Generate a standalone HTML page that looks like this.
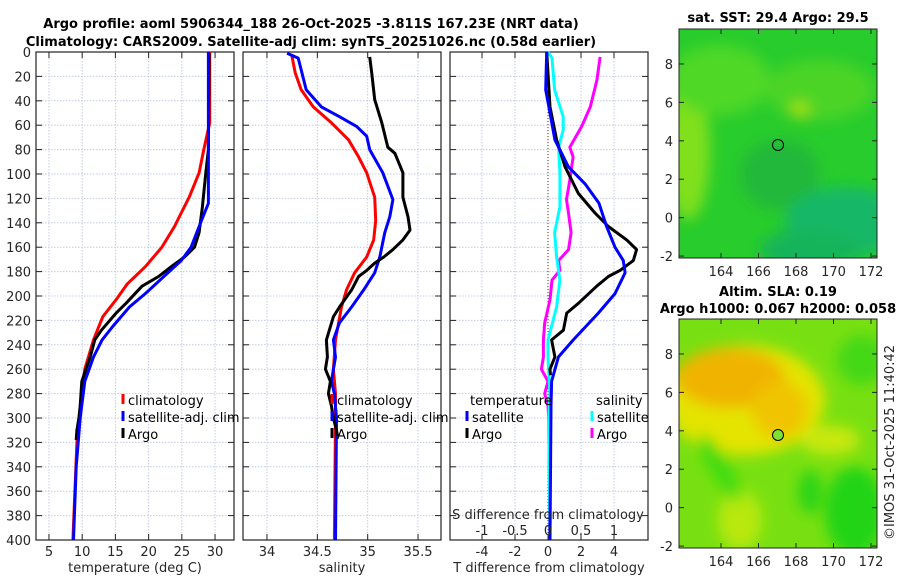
<!DOCTYPE html>
<html><head><meta charset="utf-8"><style>
html,body{margin:0;padding:0;background:#fff;}
svg{display:block;font-family:"DejaVu Sans","Liberation Sans",sans-serif;}
.tk{font-size:13px;fill:#262626;}
.tt{font-size:13px;font-weight:bold;fill:#000;}
.lg{font-size:13px;fill:#000;}
</style></head><body>
<svg id="fig" width="900" height="580" viewBox="0 0 900 580">
<defs>
<filter id="blur6" x="-20%" y="-20%" width="140%" height="140%"><feGaussianBlur stdDeviation="7"/></filter>
<clipPath id="m1clip"><rect x="679" y="29" width="198" height="229"/></clipPath>
<clipPath id="m2clip"><rect x="679" y="319" width="198" height="229"/></clipPath>
</defs>
<text class="tt" x="311" y="28" text-anchor="middle">Argo profile: aoml 5906344_188 26-Oct-2025 -3.811S 167.23E (NRT data)</text>
<text class="tt" x="311" y="46" text-anchor="middle">Climatology: CARS2009. Satellite-adj clim: synTS_20251026.nc (0.58d earlier)</text>

<!-- SST map -->
<g>
<text class="tt" x="778" y="22" text-anchor="middle">sat. SST: 29.4 Argo: 29.5</text>
<g clip-path="url(#m1clip)">
<rect x="679" y="29" width="198" height="229" fill="#28cc2c"/>
<g filter="url(#blur6)">
<ellipse cx="688" cy="150" rx="22" ry="70" fill="#80e01a"/>
<ellipse cx="720" cy="80" rx="50" ry="35" fill="#50d826"/>
<ellipse cx="820" cy="90" rx="55" ry="30" fill="#4cd428"/>
<ellipse cx="780" cy="175" rx="40" ry="35" fill="#22b83a"/>
<ellipse cx="845" cy="222" rx="60" ry="35" fill="#14b868"/>
<ellipse cx="810" cy="250" rx="50" ry="20" fill="#18b45a"/>
<ellipse cx="800" cy="110" rx="10" ry="8" fill="#a8e010"/>
</g>
</g>
<rect x="679" y="29" width="198" height="229" fill="none" stroke="#222" stroke-width="1"/>
<circle cx="778" cy="145" r="5.5" fill="none" stroke="#000" stroke-width="1"/>
<g id="m1ticks"></g>
</g>

<!-- SLA map -->
<g>
<text class="tt" x="778" y="296" text-anchor="middle">Altim. SLA: 0.19</text>
<text class="tt" x="778" y="313" text-anchor="middle">Argo h1000: 0.067 h2000: 0.058</text>
<g clip-path="url(#m2clip)">
<rect x="679" y="319" width="198" height="229" fill="#78e012"/>
<g filter="url(#blur6)">
<ellipse cx="745" cy="400" rx="80" ry="55" fill="#e4e400"/>
<ellipse cx="730" cy="378" rx="55" ry="30" fill="#f0b400"/>
<ellipse cx="780" cy="410" rx="28" ry="28" fill="#f0c400"/>
<ellipse cx="740" cy="520" rx="22" ry="30" fill="#b8e810"/>
<ellipse cx="720" cy="468" rx="10" ry="38" fill="#40dc10" transform="rotate(-30 720 468)"/>
<ellipse cx="855" cy="512" rx="30" ry="45" fill="#24d418"/>
<ellipse cx="810" cy="492" rx="12" ry="22" fill="#2cd418"/>
<ellipse cx="862" cy="360" rx="25" ry="25" fill="#44d818"/>
<ellipse cx="830" cy="440" rx="30" ry="15" fill="#c8e808"/>
</g>
</g>
<rect x="679" y="319" width="198" height="229" fill="none" stroke="#222" stroke-width="1"/>
<circle cx="778" cy="435" r="5.5" fill="#7ee030" stroke="#000" stroke-width="1"/>
<g id="m2ticks"></g>
</g>
<text class="tk" x="894" y="540" transform="rotate(-90 894 540)">©IMOS 31-Oct-2025 11:40:42</text>

<g id="panels"></g>
</svg>
<script>
// ---- data ----
var depthTicks=[0,20,40,60,80,100,120,140,160,180,200,220,240,260,280,300,320,340,360,380,400];
var tTicks=[5,10,15,20,25,30];
var sTicks=[34,34.5,35,35.5];
var dTTicks=[-4,-2,0,2,4];
var dSTicks=[-1,-0.5,0,0.5,1];
var dSTickLabels=["-1","-0.5","0","0.5","1"];
// temperature panel
var climTdep=[0,58,80,99,119,132,143,160,176,190,203,217,236,260,280,320,400];
var climT=[29.2,29.2,28.3,27.6,26.1,24.9,23.9,22.0,19.5,16.8,15.1,13.1,11.7,10.4,9.95,9.2,8.6];
var satTdep=[0,124,143,160,171,181,198,209,225,236,250,270,300,340,400];
var satT=[29.0,29.0,27.6,26.4,24.9,22.9,19.5,17.1,14.6,13.0,11.7,10.4,9.7,9.1,8.7];
var argoTdep=[1,80,99,127,148,160,168,176,184,192,206,214,228,236,250,270,290,300,310,318];
var argoT=[29.1,29.0,28.6,28.1,27.6,26.9,25.4,23.4,21.5,19.0,16.6,15.1,12.9,11.9,11.2,9.95,9.7,9.5,9.2,9.1];
// salinity panel
var climSdep=[2,17,31,45,58,72,86,99,119,138,154,168,181,195,209,236,260,280,300,400];
var climS=[34.245,34.28,34.34,34.46,34.64,34.81,34.91,34.99,35.07,35.08,35.06,34.99,34.87,34.79,34.74,34.68,34.66,34.68,34.68,34.67];
var satSdep=[1,5,31,45,53,61,69,80,99,121,135,148,168,181,195,209,222,236,250,270,280,300,400];
var satS=[34.2,34.31,34.39,34.54,34.72,34.89,34.99,35.02,35.15,35.25,35.22,35.17,35.12,35.07,34.96,34.84,34.72,34.66,34.68,34.64,34.67,34.69,34.68];
var argoSdep=[4,17,39,58,78,83,99,119,135,146,154,162,168,173,179,184,195,209,217,236,250,260,270,280,290,300,310,315];
var argoS=[35.02,35.04,35.07,35.14,35.20,35.27,35.35,35.35,35.40,35.42,35.35,35.25,35.16,35.07,34.99,34.91,34.84,34.72,34.66,34.59,34.60,34.58,34.63,34.61,34.64,34.66,34.69,34.70];
// difference panel
var dTsatDep=[0,31,50,72,94,108,124,143,160,171,181,198,214,236,250,270,290,400];
var dTsat=[-0.08,-0.14,0.12,0.42,1.23,2.24,3.09,3.55,4.06,4.56,4.67,4.06,3.05,1.53,0.63,0.22,0.18,0.12];
var dTargoDep=[0,45,72,94,116,132,143,154,162,171,179,184,192,206,214,228,236,250,260,265];
var dTargo=[-0.08,0.12,0.52,1.03,1.84,2.85,3.66,4.77,5.37,5.17,4.36,3.66,2.95,1.84,1.13,0.93,0.22,0.42,0.12,0.15];
var dSsatDep=[0,5,31,53,64,78,99,127,148,168,187,209,236,250,280,300,400];
var dSsat=[0,0.06,0.10,0.23,0.23,0.16,0.18,0.18,0.10,0.13,0.18,0.13,0,0,0.03,0.01,0.03];
var dSargoDep=[4,23,45,61,78,86,105,121,132,148,162,171,179,187,203,222,236,250,260,270,280,290,300,400];
var dSargo=[0.79,0.74,0.64,0.51,0.33,0.38,0.33,0.28,0.31,0.35,0.31,0.16,0.18,0.06,0.03,-0.05,-0.07,-0.07,-0.10,0,-0.05,0,0.01,0.03];
// map ticks
var latTicks=[-2,0,2,4,6,8];
var lonTicks=[164,166,168,170,172];

var NS="http://www.w3.org/2000/svg";
function el(tag,attrs,parent){var e=document.createElementNS(NS,tag);for(var k in attrs)e.setAttribute(k,attrs[k]);parent.appendChild(e);return e;}
var top0=52,bot0=540;
function yD(d){return top0+(d/400)*(bot0-top0);}
var root=document.getElementById('panels');

function panel(name,x0,x1,xmin,xmax,ticks,tickLabels,xlabel,showY){
  var g=el('g',{},root);
  
  
  var sx=function(v){return x0+(v-xmin)/(xmax-xmin)*(x1-x0);};
  depthTicks.forEach(function(d){
    var l=el('line',{x1:x0,x2:x1,y1:yD(d),y2:yD(d),stroke:'#c4cbe6','stroke-width':1,'stroke-dasharray':'1.5,1.5'},g);
    
    
    el('line',{x1:x0,x2:x0+6,y1:yD(d),y2:yD(d),stroke:'#222'},g);
    el('line',{x1:x1-6,x2:x1,y1:yD(d),y2:yD(d),stroke:'#222'},g);
    if(showY){var t=el('text',{x:x0-5,y:yD(d)+5,'text-anchor':'end','class':'tk'},g);t.textContent=d;
      
      }
  });
  ticks.forEach(function(v,i){
    var x=sx(v);
    var l=el('line',{x1:x,x2:x,y1:top0,y2:bot0,stroke:'#c4cbe6','stroke-width':1,'stroke-dasharray':'1.5,1.5'},g);
    
    
    el('line',{x1:x,x2:x,y1:bot0-6,y2:bot0,stroke:'#222'},g);
    el('line',{x1:x,x2:x,y1:top0,y2:top0+6,stroke:'#222'},g);
    var t=el('text',{x:x,y:556,'text-anchor':'middle','class':'tk'},g);t.textContent=tickLabels[i];
    
    
  });
  el('rect',{x:x0,y:top0,width:x1-x0,height:bot0-top0,fill:'none',stroke:'#222','stroke-width':1.2},g);
  var xt=el('text',{x:(x0+x1)/2,y:572,'text-anchor':'middle','class':'tk'},g);xt.textContent=xlabel;
  
  
  return {g:g,sx:sx};
}
function line(p,deps,vals,color,name,scale){
  scale=scale||1;
  var pts=deps.map(function(d,i){return p.sx(vals[i]*scale).toFixed(1)+','+yD(d).toFixed(1);}).join(' ');
  var l=el('polyline',{points:pts,fill:'none',stroke:color,'stroke-width':3,'stroke-linejoin':'round'},p.g);
  
  
}
function legendItem(g,x,y,color,label,name){
  var m=el('line',{x1:x,x2:x,y1:y-11,y2:y-1,stroke:color,'stroke-width':3},g);
  
  
  var t=el('text',{x:x+5,y:y,'class':'lg'},g);t.textContent=label;
  
  
}

var p1=panel('temperature-panel',36,234,3.05,32.85,tTicks,tTicks,'temperature (deg C)',true);
line(p1,climTdep,climT,'#ff0000','climatology-temperature-line');
line(p1,argoTdep,argoT,'#000000','argo-temperature-line');
line(p1,satTdep,satT,'#0000ff','satellite-temperature-line');
legendItem(p1.g,123,405,'#ff0000','climatology','legend-climatology');
legendItem(p1.g,123,422,'#0000ff','satellite-adj. clim','legend-satellite-adj');
legendItem(p1.g,123,439,'#000000','Argo','legend-argo');

var p2=panel('salinity-panel',243,441,33.762,35.728,sTicks,sTicks,'salinity',false);
line(p2,climSdep,climS,'#ff0000','climatology-salinity-line');
line(p2,satSdep,satS,'#0000ff','satellite-salinity-line');
line(p2,argoSdep,argoS,'#000000','argo-salinity-line');
legendItem(p2.g,332,405,'#ff0000','climatology','legend-climatology-s');
legendItem(p2.g,332,422,'#0000ff','satellite-adj. clim','legend-satellite-adj-s');
legendItem(p2.g,332,439,'#000000','Argo','legend-argo-s');

var p3=panel('difference-panel',450,648,-5.94,6.06,dTTicks,dTTicks,'T difference from climatology',false);
var z=el('line',{x1:p3.sx(0),x2:p3.sx(0),y1:top0,y2:bot0,stroke:'#553322','stroke-width':1,'stroke-dasharray':'1,2'},p3.g);


line(p3,dSargoDep,dSargo,'#ff00ff','argo-salinity-diff-line',4);
line(p3,dSsatDep,dSsat,'#00ffff','satellite-salinity-diff-line',4);
line(p3,dTargoDep,dTargo,'#000000','argo-temperature-diff-line');
line(p3,dTsatDep,dTsat,'#0000ff','satellite-temperature-diff-line');
var ht=el('text',{x:470,y:405,'class':'lg'},p3.g);ht.textContent='temperature';


var hs=el('text',{x:596,y:405,'class':'lg'},p3.g);hs.textContent='salinity';


legendItem(p3.g,467,422,'#0000ff','satellite','legend-temp-satellite');
legendItem(p3.g,467,439,'#000000','Argo','legend-temp-argo');
legendItem(p3.g,592,422,'#00ffff','satellite','legend-sal-satellite');
legendItem(p3.g,592,439,'#ff00ff','Argo','legend-sal-argo');
var st=el('text',{x:548,y:519,'text-anchor':'middle','class':'tk'},p3.g);st.textContent='S difference from climatology';


dSTicks.forEach(function(v,i){
  var t=el('text',{x:p3.sx(v*4),y:535,'text-anchor':'middle','class':'tk'},p3.g);t.textContent=dSTickLabels[i];
  
  
});

function mapTicks(id,top,bottom){
  var g=document.getElementById(id);
  var lonX=function(v){return 721+(v-164)*18.75;};
  var latY=function(v){return top+ (9.82-v)/(9.82+2.1)*(bottom-top);};
  latTicks.forEach(function(v){
    var y=latY(v);
    el('line',{x1:679,x2:684,y1:y,y2:y,stroke:'#222'},g);
    el('line',{x1:872,x2:877,y1:y,y2:y,stroke:'#222'},g);
    var t=el('text',{x:673,y:y+5,'text-anchor':'end','class':'tk'},g);t.textContent=v;
    
    
  });
  lonTicks.forEach(function(v){
    var x=lonX(v);
    el('line',{x1:x,x2:x,y1:bottom-5,y2:bottom,stroke:'#222'},g);
    el('line',{x1:x,x2:x,y1:top,y2:top+5,stroke:'#222'},g);
    var t=el('text',{x:x,y:bottom+18,'text-anchor':'middle','class':'tk'},g);t.textContent=v;
    
    
  });
}
mapTicks('m1ticks',29,258);
mapTicks('m2ticks',319,548);
</script>
</body></html>
